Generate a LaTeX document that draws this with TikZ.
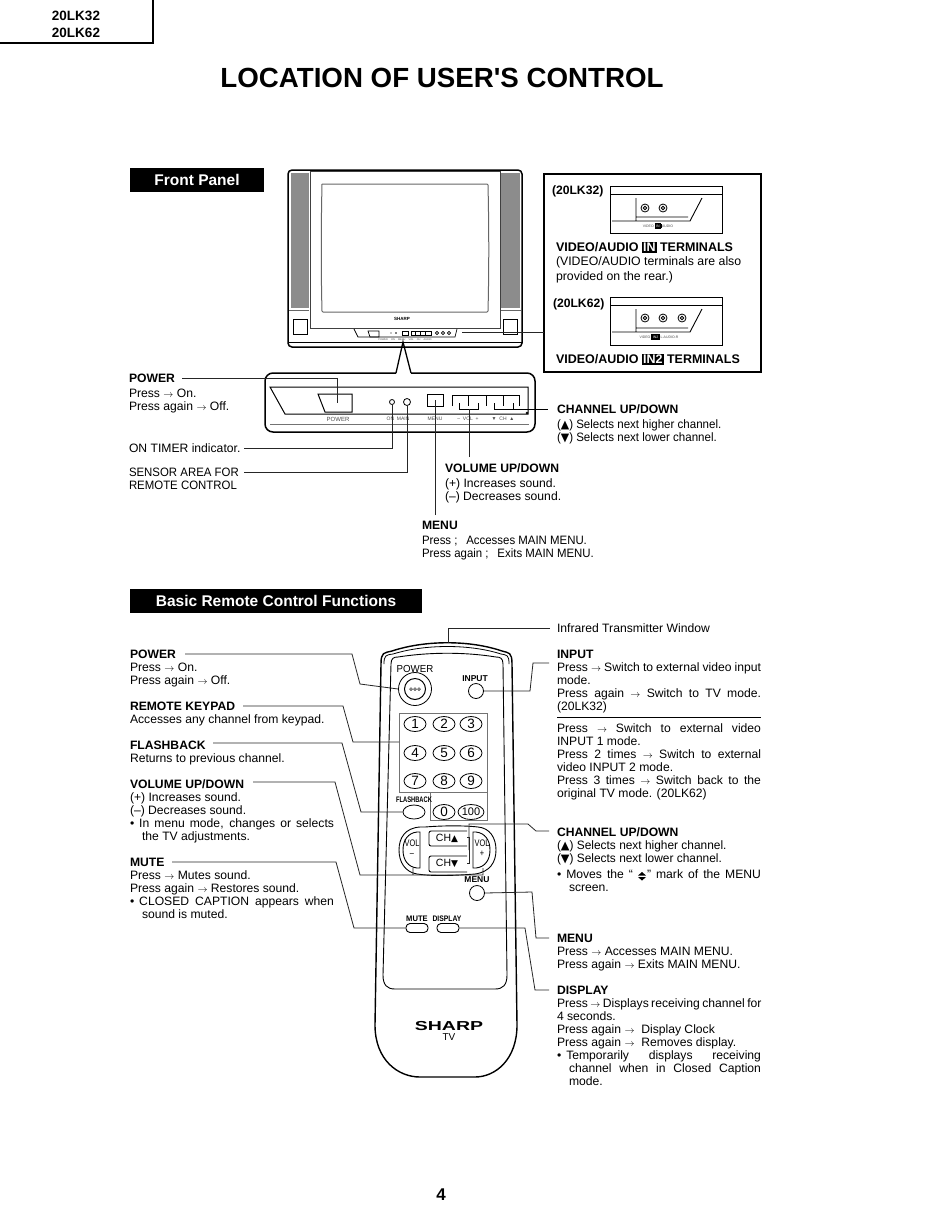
\documentclass[tikz,border=0pt]{standalone}
\usepackage{fontspec}
\setmainfont{Liberation Sans}
\newfontfamily\djv{DejaVu Sans}
\newcommand\jl[1]{\hbox to 204pt{\spaceskip=.2em plus 1fil\relax #1}}
\newcommand\up{{\djv\fontsize{11.5}{10}\selectfont ▲}}
\newcommand\dn{{\djv\fontsize{11.5}{10}\selectfont ▼}}
\newcommand\rarr{ {\fontsize{10.2}{9}\selectfont $\rightarrow$} }
\setlength\fboxsep{1pt}
\tikzset{
 x=1pt,y=-1pt,
 body/.style={anchor=north west,inner sep=0pt,outer sep=0pt,align=left,yshift=8pt,font=\fontsize{12.15}{13}\selectfont},
 head/.style={body,font=\fontsize{12.15}{13}\selectfont\bfseries},
 narrow/.style={xscale=.94},
 band/.style={fill=black,text=white,inner sep=0pt,minimum height=24pt,font=\fontsize{15.5}{16}\selectfont\bfseries},
 lead/.style={line width=.8pt,black!85},
 tiny/.style={inner sep=0pt,font=\fontsize{5}{5}\selectfont,text=black!70},
 key/.style={draw,ellipse,line width=.8pt,minimum width=22pt,minimum height=15pt,inner sep=0pt,font=\fontsize{13.5}{13}\selectfont},
 rlabel/.style={inner sep=0pt,font=\fontsize{8}{8}\selectfont\bfseries},
 round/.style={draw,circle,line width=.8pt,inner sep=0pt},
}
\usetikzlibrary{shapes.geometric}
\begin{document}
\begin{tikzpicture}
\useasboundingbox[fill=white] (0,0) rectangle (950,1229);
% model tab
\draw[line width=1.5pt] (153,0) -- (153,43) -- (0,43);
\node[inner sep=0pt,font=\fontsize{13.5}{17}\selectfont\bfseries,align=center] (model) at (76,24.5) {20LK32\\20LK62};
\node[inner sep=0pt,font=\fontsize{27.7}{28}\selectfont\bfseries] (title) at (442,78) {LOCATION OF USER\textquotesingle S CONTROL};
\node[band,minimum width=134pt] (fp) at (197,180) {Front Panel};
\node[band,minimum width=292pt] (br) at (276,601) {Basic Remote Control Functions};
% TV
\fill[black!45] (291,173) rectangle (309,308);
\fill[black!45] (501,173) rectangle (520,308);
\draw[line width=1.5pt,rounded corners=4pt] (288,170) rectangle (522,347);
\draw[line width=.7pt] (288,342) -- (522,342);
\draw[line width=.6pt,black!60] (289,310) -- (309,310) (501,310) -- (521,310);
\draw[line width=.7pt,black!75,fill=white] (310,171) rectangle (500,328);
\draw[line width=1pt,black!60,rounded corners=1pt] (322,184) -- (488,184) .. controls (489,230) and (489,270) .. (488,312) -- (322,312) .. controls (321,270) and (321,230) .. (322,184);
\node[inner sep=0pt,font=\fontsize{4.5}{5}\selectfont\bfseries] (tvbrand) at (402,319) {SHARP};
\draw[line width=.8pt] (293,319) rectangle (307,334);
\draw[line width=.8pt] (503,319) rectangle (517,334);
\draw[line width=.7pt] (354,329) -- (358,337) -- (455,337) -- (457,329);
\draw[line width=.7pt] (368,331) -- (379,331) -- (379,337) -- (370,337) -- cycle;
\draw[line width=.6pt] (402,331) rectangle (408,335);
\draw[line width=.6pt] (411,331) rectangle (431,335) (415,331)--(415,335) (420,331)--(420,335) (425,331)--(425,335);
\foreach \cx in {437,443,449}{\draw[line width=.6pt] (\cx,333) circle (1.6pt);}
\fill (391,333) circle (.7pt) (396,333) circle (.9pt);
\node[tiny,font=\fontsize{2.5}{3}\selectfont] (tvtiny) at (405,340) {POWER \quad ON \quad MENU \quad VOL \quad CH \quad AUDIO};
\coordinate (tvjack) at (462,332);
% pointer & front panel
\coordinate (tip) at (403,342);
\draw[line width=1.5pt,rounded corners=8pt] (396,373) -- (265,373) -- (265,432) -- (535,432) -- (535,373) -- (411,373);
\draw[line width=1.3pt] (396,373) -- (tip) -- (411,373);
\draw[line width=1pt] (270,387) -- (285,414) -- (528,414) -- (528,387) -- cycle;
\fill (527,413) circle (1.3pt);
\draw[line width=.8pt,black!55] (270,424) -- (529,424);
\draw[line width=1pt,fill=white] (318,394) -- (352,394) -- (352,412) -- (325,412) -- cycle;
\node[tiny,font=\fontsize{6}{6}\selectfont] (pw) at (338,419) {POWER};
\node[tiny] (oml) at (398,419) {ON \;MAIN};
\node[tiny] (menul) at (435,419) {MENU};
\node[tiny] (voll) at (468,419) {--\; VOL \;+};
\node[tiny] (chl) at (503,419) {▼\; CH \;▲};
\node[round,line width=.8pt,minimum size=5pt,fill=white] (ontimer) at (392,402) {};
\node[round,line width=.8pt,minimum size=7pt,fill=white] (sensor) at (407,402) {};
\node[draw,line width=1pt,minimum width=16pt,minimum height=12pt,inner sep=0pt] (menub) at (435,400) {};
\draw[line width=1pt] (452,406) -- (452,395) -- (519,395) -- (519,406) (486,395) -- (486,406) (503,395) -- (503,406) (468,395) -- (468,406);
\draw[line width=.8pt] (459,403) -- (459,409) -- (478,409) -- (478,403);
\draw[line width=.8pt] (494,403) -- (494,409) -- (513,409) -- (513,403);
\coordinate (volb) at (469,409);
\coordinate (chb) at (513,409);
\coordinate (chs) at (548,409);
% inset box
\draw[line width=1.5pt] (544,174) rectangle (761,372);
\draw[lead] (tvjack) -- (544,332);
\node[head] (lk32) at (552,194) {(20LK32)};
\node[head] (lk62) at (553,307) {(20LK62)};
\draw[line width=.9pt] (610,186) rectangle (722,233);
\draw[line width=.9pt] (610,194) -- (722,194);
\draw[line width=.9pt] (636,198) -- (636,221) (612,221) -- (690,221) -- (702,198) (636,217) -- (688,217);
\draw[line width=.8pt] (645,208) circle (4pt) (645,208) circle (1.8pt) (663,208) circle (4pt) (663,208) circle (1.8pt);
\node[tiny,font=\fontsize{3.5}{4}\selectfont] (in1) at (658,226) {VIDEO \fcolorbox{black}{black}{\textcolor{white}{IN}} AUDIO};
\draw[line width=.9pt] (610,297) rectangle (722,345);
\draw[line width=.9pt] (610,305) -- (722,305);
\draw[line width=.9pt] (636,309) -- (636,332) (612,332) -- (690,332) -- (702,309) (636,328) -- (688,328);
\draw[line width=.8pt] (645,318) circle (4pt) (645,318) circle (1.8pt) (663,318) circle (4pt) (663,318) circle (1.8pt) (682,318) circle (4pt) (682,318) circle (1.8pt);
\node[tiny,font=\fontsize{3.5}{4}\selectfont] (in2) at (659,337) {VIDEO \fcolorbox{black}{black}{\textcolor{white}{IN2}} L-AUDIO-R};
\node[head,font=\fontsize{12.5}{13}\selectfont\bfseries] (va1) at (556,250) {VIDEO/AUDIO \colorbox{black}{\textcolor{white}{IN}} TERMINALS};
\node[body,font=\fontsize{12.3}{15}\selectfont] (va1b) at (556,265) {(VIDEO/AUDIO terminals are also\\provided on the rear.)};
\node[head,font=\fontsize{12.5}{13}\selectfont\bfseries] (va2) at (556,362) {VIDEO/AUDIO \colorbox{black}{\textcolor{white}{IN2}} TERMINALS};
% front panel labels
\node[head] (fpower) at (129,382) {POWER};
\node[body] (fpowerb) at (129,397) {Press\rarr On.\\Press again\rarr Off.};
\node[body] (fon) at (129,452) {ON TIMER indicator.};
\node[body,narrow] (fsensor) at (129,476) {SENSOR AREA FOR\\REMOTE CONTROL};
\node[head] (fvol) at (445,472) {VOLUME UP/DOWN};
\node[body] (fvolb) at (445,487) {(+) Increases sound.\\(--) Decreases sound.};
\node[head] (fmenu) at (422,529) {MENU};
\node[body,narrow] (fmenub) at (422,544) {Press ;\hspace{6pt} Accesses MAIN MENU.\\Press again ;\hspace{6pt} Exits MAIN MENU.};
\node[head] (fch) at (557,413) {CHANNEL UP/DOWN};
\node[body,xscale=.95] (fchb) at (557,428) {(\up) Selects next higher channel.\\(\dn) Selects next lower channel.};
\coordinate (sp) at (182,378);
\coordinate (son) at (244,448);
\coordinate (sse) at (244,472);
\coordinate (sme) at (435,515);
\coordinate (svo) at (469,457);
\draw[lead] (sp) -- (337,378) -- (337,403);
\draw[lead] (son) -- (392,448) -- (ontimer.south);
\draw[lead] (sse) -- (407,472) -- (sensor.south);
\draw[lead] (sme) -- (menub.center);
\draw[lead] (svo) -- (volb);
\draw[line width=.8pt] (chb) -- (chs);
% remote
\coordinate (rtop) at (448,643);
\draw[line width=1.4pt] (381,664) .. controls (381,652) and (384,653) .. (392,651) .. controls (425,640) and (470,640) .. (502,651) .. controls (509,653) and (512,652) .. (512,664) -- (517,1025) .. controls (517,1060) and (495,1077) .. (475,1077) -- (420,1077) .. controls (398,1077) and (375,1060) .. (375,1025) -- cycle;
\draw[line width=.8pt] (384,664) .. controls (384,655) and (386,655) .. (393,654) .. controls (425,644) and (470,644) .. (501,654) .. controls (507,655) and (509,655) .. (509,664);
\draw[line width=.9pt] (391,664) .. controls (391,658) and (394,657) .. (398,657) .. controls (430,652) and (465,652) .. (496,657) .. controls (500,657) and (503,658) .. (503,664) -- (507,975) .. controls (507,985) and (503,989) .. (495,989) -- (395,989) .. controls (387,989) and (383,985) .. (383,975) -- cycle;
\draw[line width=.8pt,black!55] (399,713) rectangle (487,792);
\draw[line width=.8pt,black!55] (430,792) -- (430,820) -- (487,820) -- (487,792);
\node[inner sep=0pt,xscale=.95,font=\fontsize{10.2}{11}\selectfont] (rpwtxt) at (415,669) {POWER};
\node[round,minimum size=33pt] (rpower) at (415,689) {};
\node[round,minimum size=21pt,line width=1pt] (rpower2) at (415,689) {};
\foreach \cx in {411,415,419}{\draw[line width=.5pt] (\cx,689) circle (1.4pt);}
\node[rlabel,font=\fontsize{8.5}{9}\selectfont\bfseries] (rinputl) at (475,679) {INPUT};
\node[round,minimum size=15pt] (rinput) at (476,691) {};
\node[key] (k1) at (415,724) {1};
\node[key] (k2) at (444,724) {2};
\node[key] (k3) at (471,724) {3};
\node[key] (k4) at (415,753) {4};
\node[key] (k5) at (444,753) {5};
\node[key] (k6) at (471,753) {6};
\node[key] (k7) at (415,781) {7};
\node[key] (k8) at (444,781) {8};
\node[key] (k9) at (471,781) {9};
\node[key] (k0) at (444,812) {0};
\node[key,font=\fontsize{11}{11}\selectfont] (k100) at (471,812) {100};
\node[rlabel,xscale=.72] (rflashl) at (414,800) {FLASHBACK};
\node[key,minimum height=14pt] (rflash) at (414,812) {};
\draw[line width=.9pt] (425,827) .. controls (450,825) and (470,826) .. (478,827) .. controls (490,828) and (496,838) .. (496,850) .. controls (496,862) and (490,872) .. (475,874) .. controls (450,876) and (430,876) .. (417,874) .. controls (405,872) and (399,862) .. (399,850) .. controls (399,838) and (405,828) .. (420,827) -- cycle;
\draw[line width=.9pt] (417,832) .. controls (408,833) and (403,840) .. (403,850) .. controls (403,860) and (408,867) .. (417,868) -- (420,868) -- (420,832) -- cycle;
\draw[line width=.9pt] (476,832) .. controls (485,833) and (490,840) .. (490,850) .. controls (490,860) and (485,867) .. (476,868) -- (473,868) -- (473,832) -- cycle;
\draw[line width=.9pt,rounded corners=2pt] (467,846) -- (429,846) -- (429,831) -- (467,831) (467,856) -- (429,856) -- (429,872) -- (467,872);
\node[inner sep=0pt,font=\fontsize{9.5}{10}\selectfont,align=center,xscale=.78] (volm) at (412,848) {VOL\\--};
\node[inner sep=0pt,font=\fontsize{9.5}{10}\selectfont,align=center,xscale=.78] (volp) at (482,848) {VOL\\+};
\node[inner sep=0pt,font=\fontsize{10.5}{10}\selectfont] (chup) at (447,838) {CH{\djv\fontsize{9}{7}\selectfont ▲}};
\node[inner sep=0pt,font=\fontsize{10.5}{10}\selectfont] (chdn) at (447,863) {CH{\djv\fontsize{9}{7}\selectfont ▼}};
\draw[lead] (467,837) -- (469,837) -- (469,863) -- (467,863);
\node[rlabel,font=\fontsize{8.5}{9}\selectfont\bfseries] (rmenul) at (477,880) {MENU};
\node[round,minimum size=15pt] (rmenu) at (477,893) {};
\node[rlabel,xscale=.95] (rmutel) at (417,919) {MUTE};
\node[rlabel,xscale=.85] (rdispl) at (447,919) {DISPLAY};
\node[draw,line width=.9pt,rounded corners=4pt,minimum width=22pt,minimum height=9pt,inner sep=0pt] (rmute) at (417,928) {};
\node[draw,line width=.9pt,rounded corners=4pt,minimum width=22pt,minimum height=9pt,inner sep=0pt] (rdisp) at (448,928) {};
\node[inner sep=0pt,xscale=1.5,font=\fontsize{13}{13}\selectfont\bfseries] (sharp) at (449,1026) {SHARP};
\node[inner sep=0pt,font=\fontsize{10}{10}\selectfont] (tvl) at (449,1037) {TV};
% remote labels left
\node[head] (lpow) at (130,658) {POWER};
\node[body] (lpowb) at (130,671) {Press\rarr On.\\Press again\rarr Off.};
\node[head] (lkey) at (130,710) {REMOTE KEYPAD};
\node[body] (lkeyb) at (130,723) {Accesses any channel from keypad.};
\node[head] (lfla) at (130,749) {FLASHBACK};
\node[body] (lflab) at (130,762) {Returns to previous channel.};
\node[head] (lvol) at (130,788) {VOLUME UP/DOWN};
\node[body] (lvolb) at (130,801) {(+) Increases sound.\\(--) Decreases sound.\\\jl{•\hspace{5pt}In menu mode, changes or selects}\\\hspace*{12pt}the TV adjustments.};
\node[head] (lmut) at (130,866) {MUTE};
\node[body] (lmutb) at (130,879) {Press\rarr Mutes sound.\\Press again\rarr Restores sound.\\\jl{•\hspace{5pt}CLOSED CAPTION appears when}\\\hspace*{12pt}sound is muted.};
% remote labels right
\node[body] (rir) at (557,632) {Infrared Transmitter Window};
\node[head] (rinh) at (557,658) {INPUT};
\node[body] (rinb) at (557,671) {\jl{Press\rarr Switch to external video input}\\mode.\\\jl{Press again\rarr Switch to TV mode.}\\(20LK32)};
\draw[line width=.8pt] (557,717) -- (761,717);
\node[body] (rinc) at (557,732) {\jl{Press\rarr Switch to external video}\\INPUT 1 mode.\\\jl{Press 2 times\rarr Switch to external}\\video INPUT 2 mode.\\\jl{Press 3 times\rarr Switch back to the}\\original TV mode. (20LK62)};
\node[head] (rchh) at (557,836) {CHANNEL UP/DOWN};
\node[body,xscale=.98] (rchb) at (557,849) {(\up) Selects next higher channel.\\(\dn) Selects next lower channel.};
\node[body] (rchc) at (557,878) {\jl{•\hspace{5pt}Moves the “\hspace{14pt}” mark of the MENU}\\\hspace*{12pt}screen.};
\fill (642,872) -- (646,875.5) -- (638,875.5) -- cycle (638,877) -- (646,877) -- (642,880.5) -- cycle;
\node[head] (rmeh) at (557,942) {MENU};
\node[body] (rmeb) at (557,955) {Press\rarr Accesses MAIN MENU.\\Press again\rarr Exits MAIN MENU.};
\node[head] (rdih) at (557,994) {DISPLAY};
\node[body] (rdib) at (557,1007) {\jl{Press\rarr Displays receiving channel for}\\4 seconds.\\Press again\rarr\ Display Clock\\Press again\rarr\ Removes display.\\\jl{•\hspace{5pt}Temporarily displays receiving}\\\jl{\hspace*{12pt}channel when in Closed Caption}\\\hspace*{12pt}mode.};
% remote connectors
\coordinate (cpow) at (185,654);
\coordinate (ckey) at (243,706);
\coordinate (cfla) at (213,743);
\coordinate (cvol) at (253,782);
\coordinate (cmut) at (172,862);
\coordinate (cir) at (550,628);
\coordinate (cin) at (549,663);
\coordinate (cch) at (549,831);
\coordinate (cme) at (549,938);
\coordinate (cdi) at (549,990);
\draw[lead] (cpow) -- (352,654) -- (360,684) -- (rpower.west);
\draw[lead] (ckey) -- (343,706) -- (353,742) -- (399,742);
\draw[lead] (cfla) -- (342,743) -- (361,812) -- (rflash.west);
\draw[lead] (cvol) -- (335,782) -- (360,875) -- (483,875) -- (483,868) (413,875) -- (413,868);
\draw[lead] (cmut) -- (336,862) -- (354,928) -- (rmute.west);
\draw[lead] (rtop) -- (448,628) -- (cir);
\draw[lead] (rinput.east) -- (530,691) -- (533,663) -- (cin);
\draw[lead] (469,850) -- (469,824) -- (528,824) -- (536,831) -- (cch);
\draw[lead] (rmenu.east) -- (532,892) -- (536,938) -- (cme);
\draw[lead] (rdisp.east) -- (525,928) -- (535,990) -- (cdi);
\node[inner sep=0pt,font=\fontsize{17}{17}\selectfont\bfseries] (page) at (441,1195) {4};
\end{tikzpicture}
\end{document}
